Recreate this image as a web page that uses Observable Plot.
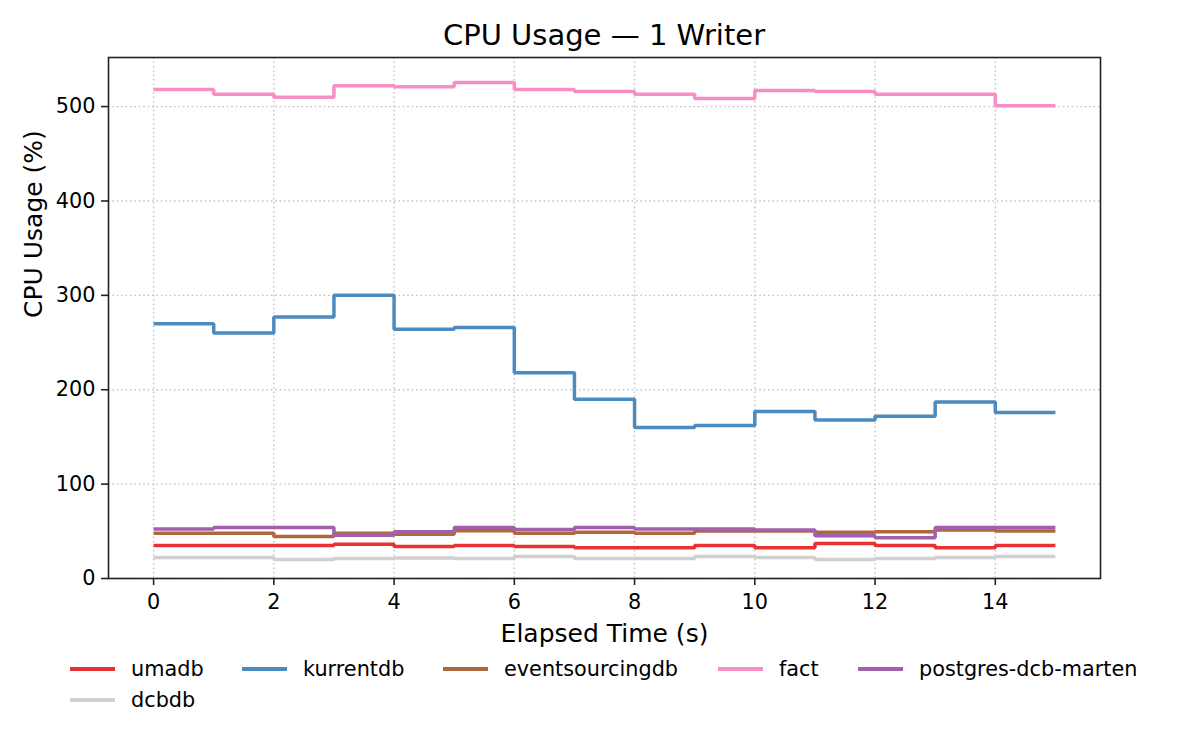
<!DOCTYPE html>
<html><head><meta charset="utf-8">
<script src="https://cdn.jsdelivr.net/npm/d3@7"></script>
<script src="https://cdn.jsdelivr.net/npm/@observablehq/plot@0.6"></script>
<style>
body{margin:0;background:#fff;font-family:"DejaVu Sans",sans-serif;color:#000;}
#wrap{position:relative;width:1200px;height:750px;overflow:hidden;background:#fff;}
#chart{position:absolute;left:0;top:0;}
#title{position:absolute;left:0;width:1208px;top:16px;text-align:center;font-size:29px;line-height:38px;}
.item{position:absolute;display:flex;align-items:center;font-size:20.8px;height:30px;line-height:30px;white-space:nowrap;}
.sw{width:45px;height:4px;margin-right:16px;flex:none;}
</style></head><body>
<div id="wrap"><div id="chart"></div><div id="title">CPU Usage — 1 Writer</div></div>
<script>
// ---- data ----
const elapsed = [0,1,2,3,4,5,6,7,8,9,10,11,12,13,14,15];
const seriesNames = ["umadb","kurrentdb","eventsourcingdb","fact","postgres-dcb-marten","dcbdb"];
const umadb = [34.9,34.9,34.9,36.3,33.8,34.9,33.8,32.7,32.7,34.9,32.7,37.0,34.9,32.7,34.9,34.9];
const kurrentdb = [270,260,277,300,264,266,218,190,160,162,177,168,172,187,176,176];
const eventsourcingdb = [47.9,47.9,44.4,47.9,46.8,50.7,47.9,49.0,47.9,50.4,50.4,49.0,49.6,51.4,50.4,50.4];
const fact = [518,513,510,522,521,525.5,518,516,513,508.5,517,516,513,513,501,501];
const postgresDcbMarten = [52.5,54,54,45.8,49.6,54,51.8,54,52.5,52.5,51.4,45.4,43.3,54,54,54];
const dcbdb = [22.2,22.2,20.0,21.1,21.8,21.1,23.2,21.1,21.1,23.2,22.2,20.0,21.1,22.2,23.2,23.2];
const seriesColors = ["#e73133","#4b8bbf","#af673e","#f88ec6","#a260ac","#d0d0d0"];
const xTicks = [0,2,4,6,8,10,12,14];
const yTicks = [0,100,200,300,400,500];
const titleText = "CPU Usage — 1 Writer";
const xLabel = "Elapsed Time (s)";
const yLabel = "CPU Usage (%)";

// ---- build table ----
const valueLists = [umadb, kurrentdb, eventsourcingdb, fact, postgresDcbMarten, dcbdb];
const rows = seriesNames.flatMap((name, i) =>
  elapsed.map((t, j) => ({name, t, v: valueLists[i][j]})));

const chart = Plot.plot({
  width: 1200,
  height: 650,
  marginLeft: 108,
  marginRight: 100,
  marginTop: 57,
  marginBottom: 72,
  style: {fontFamily: "DejaVu Sans", fontSize: "20.8px", background: "#fff", color: "#000", overflow: "visible"},
  x: {domain: [-0.75, 15.75]},
  y: {domain: [0, 552]},
  color: {domain: seriesNames, range: seriesColors},
  marks: [
    Plot.gridX(xTicks, {stroke: "#c4c4c4", strokeOpacity: 1, strokeWidth: 1.4, strokeDasharray: "1.6,2.8"}),
    Plot.gridY(yTicks, {stroke: "#c4c4c4", strokeOpacity: 1, strokeWidth: 1.4, strokeDasharray: "1.6,2.8"}),
    Plot.line(rows, {x: "t", y: "v", z: "name", stroke: "name", curve: "step-after", strokeWidth: 3.5, strokeLinejoin: "miter", strokeLinecap: "butt"}),
    Plot.axisX({ticks: xTicks, tickSize: 7, tickPadding: 9, strokeWidth: 1.6, label: null, stroke: "#222"}),
    Plot.axisY({ticks: yTicks, tickSize: 7, tickPadding: 6, strokeWidth: 1.6, label: null, stroke: "#222"}),
    Plot.frame({stroke: "#222", strokeWidth: 1.6}),
    Plot.text([xLabel], {frameAnchor: "bottom", dy: 55, text: d => d, fontSize: 25, lineAnchor: "middle", fill: "#000"}),
    Plot.text([yLabel], {frameAnchor: "left", dx: -75, rotate: -90, text: d => d, fontSize: 25, lineAnchor: "middle", fill: "#000"})
  ]
});
document.getElementById("chart").appendChild(chart);
document.getElementById("title").textContent = titleText;

// ---- legend (HTML, below the SVG) ----
const legendLayout = [
  {x: 70, y: 669}, {x: 242, y: 669}, {x: 443, y: 669}, {x: 718, y: 669}, {x: 858, y: 669},
  {x: 70, y: 700}
];
const wrap = document.getElementById("wrap");
seriesNames.forEach((name, i) => {
  const it = document.createElement("div");
  it.className = "item";
  it.style.left = legendLayout[i].x + "px";
  it.style.top = (legendLayout[i].y - 15) + "px";
  const sw = document.createElement("span");
  sw.className = "sw";
  sw.style.background = seriesColors[i];
  const tx = document.createElement("span");
  tx.textContent = name;
  it.appendChild(sw); it.appendChild(tx);
  wrap.appendChild(it);
});
</script></body></html>
